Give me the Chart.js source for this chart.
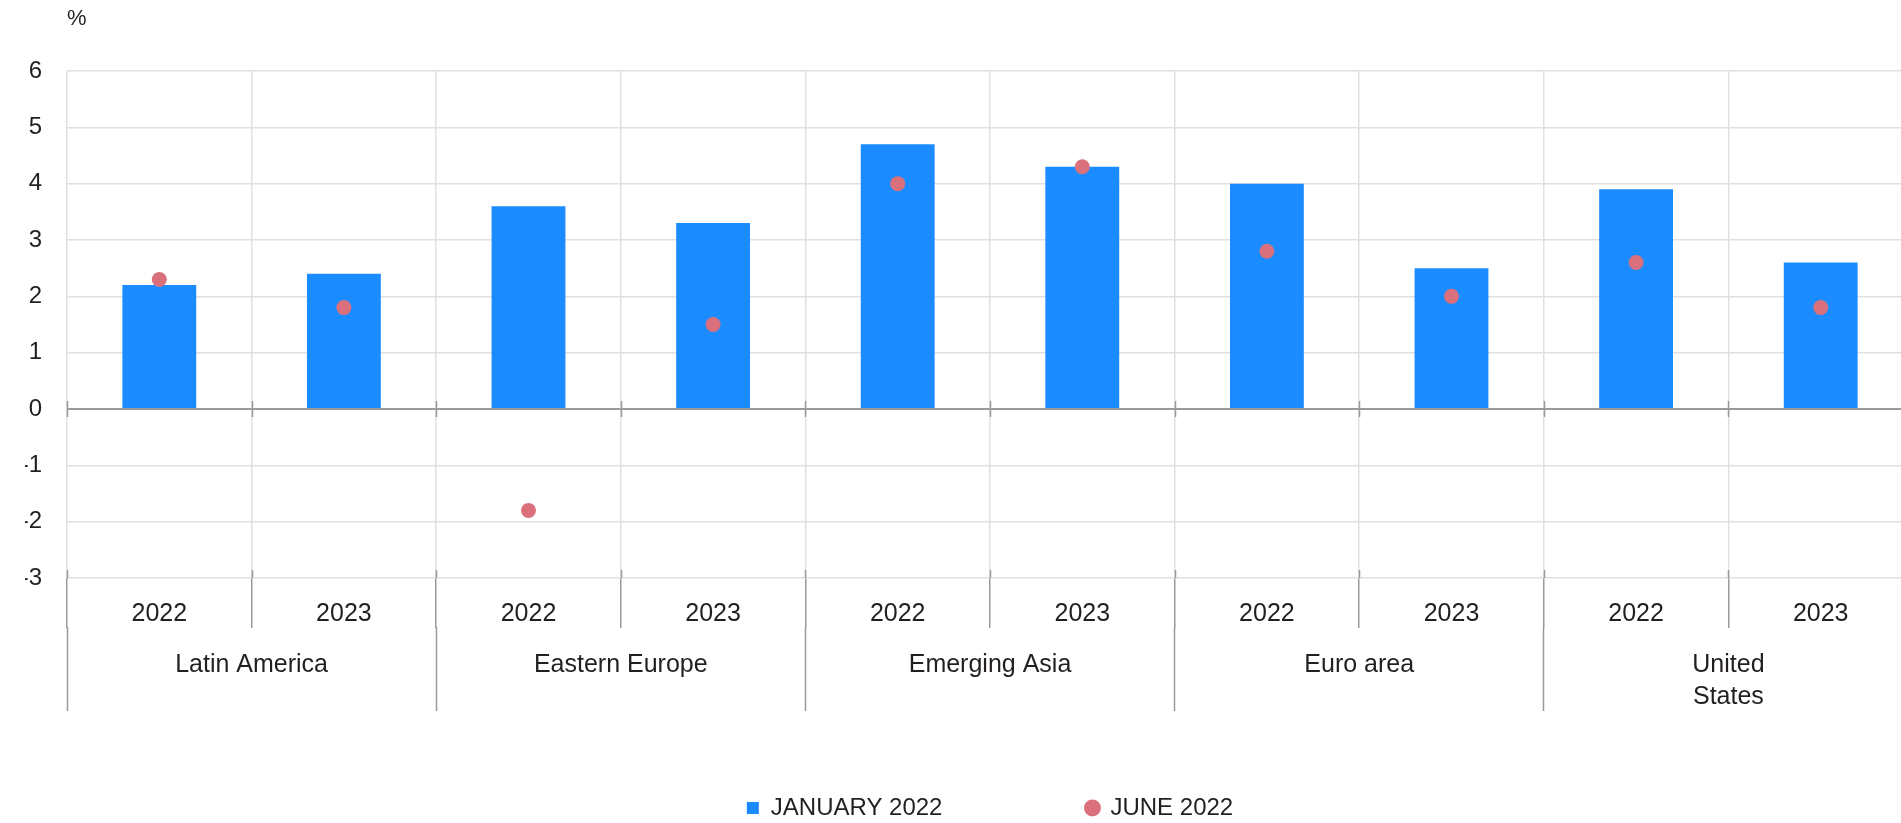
<!DOCTYPE html>
<html>
<head>
<meta charset="utf-8">
<script src="https://cdn.jsdelivr.net/npm/chart.js@4.4.1/dist/chart.umd.min.js"></script>
<style>
  html, body { margin: 0; padding: 0; background: #fff; overflow: hidden; }
  #wrap { position: relative; width: 1913px; height: 830px; }
</style>
</head>
<body>
<div id="wrap"><canvas id="chart"></canvas></div>
<script>
// ===== DATA =====
const YEARS     = ['2022', '2023', '2022', '2023', '2022', '2023', '2022', '2023', '2022', '2023'];
const REGIONS   = ['Latin America', 'Eastern Europe', 'Emerging Asia', 'Euro area', ['United', 'States']];
const JAN_2022  = [2.2, 2.4, 3.6, 3.3, 4.7, 4.3, 4.0, 2.5, 3.9, 2.6];
const JUNE_2022 = [2.3, 1.8, -1.8, 1.5, 4.0, 4.3, 2.8, 2.0, 2.6, 1.8];
const Y_MIN = -3, Y_MAX = 6;

// ===== STYLE =====
const BLUE = '#1b8cff';
const PINK = '#d9707b';
const GRID = '#e0e0e0';
const AXIS = '#9a9a9a';
const TEXT = '#231f20';
const FONT = "'Liberation Sans', Arial, Helvetica, sans-serif";

Chart.defaults.font.family = FONT;
Chart.defaults.color = TEXT;

// small marks crossing the zero line + unit label
const axisMarks = {
  id: 'axisMarks',
  afterDatasetsDraw(chart) {
    const { ctx, chartArea, scales: { x, y } } = chart;
    const y0 = Math.round(y.getPixelForValue(0));
    ctx.save();
    ctx.strokeStyle = AXIS;
    ctx.lineWidth = 1.5;
    ctx.beginPath();
    for (let i = 0; i <= YEARS.length; i++) {
      const px = Math.round(x.getPixelForValue(i - 0.5)) + 0.5;
      ctx.moveTo(px, y0 - 8);
      ctx.lineTo(px, y0 + 8);
      ctx.moveTo(px, chartArea.bottom - 8);
      ctx.lineTo(px, chartArea.bottom);
    }
    ctx.stroke();
    ctx.fillStyle = TEXT;
    ctx.font = '22px ' + FONT;
    ctx.textAlign = 'left';
    ctx.textBaseline = 'middle';
    ctx.fillText('%', chartArea.left, 19);
    ctx.restore();
  }
};

new Chart(document.getElementById('chart'), {
  type: 'bar',
  data: {
    labels: YEARS,
    datasets: [
      {
        label: 'JANUARY 2022',
        data: JAN_2022,
        backgroundColor: BLUE,
        borderWidth: 0,
        barPercentage: 0.4,
        categoryPercentage: 1,
        pointStyle: 'rect',
        order: 2,
      },
      {
        type: 'line',
        label: 'JUNE 2022',
        data: JUNE_2022,
        showLine: false,
        pointStyle: 'circle',
        pointRadius: 7.5,
        pointHoverRadius: 7.5,
        pointBorderWidth: 0,
        backgroundColor: PINK,
        pointBackgroundColor: PINK,
        borderColor: PINK,
        order: 1,
      },
    ],
  },
  options: {
    responsive: true, maintainAspectRatio: false,
    animation: false,
    layout: { autoPadding: false, padding: { top: 71, left: 25, right: 0, bottom: 0 } },
    plugins: {
      legend: {
        position: 'bottom',
        fullSize: false,
        labels: {
          usePointStyle: true,
          boxWidth: 12, boxHeight: 12,
          padding: 144,
          color: TEXT,
          font: { size: 24 },
          sort: (a, b) => a.datasetIndex - b.datasetIndex,
        },
      },
      tooltip: { enabled: false },
    },
    scales: {
      x: {
        weight: 0,
        offset: true,
        grid: { offset: true, color: GRID, lineWidth: 1.5, tickColor: AXIS, tickWidth: 1.5, tickLength: 50 },
        border: { display: false },
        ticks: { autoSkip: false, maxRotation: 0, padding: -29, color: TEXT, font: { size: 25 } },
        afterFit: s => { s.height = 49; },
      },
      x2: {
        type: 'category',
        labels: REGIONS,
        position: 'bottom',
        weight: 1,
        offset: true,
        grid: { offset: true, drawOnChartArea: false, tickColor: AXIS, tickWidth: 1.5, tickLength: 84 },
        border: { display: false },
        ticks: { autoSkip: false, maxRotation: 0, mirror: true, padding: -54, color: TEXT, font: { size: 25, lineHeight: 1.28 } },
        afterFit: s => { s.height = 25; },
      },
      y: {
        min: Y_MIN, max: Y_MAX,
        ticks: { stepSize: 1, padding: 25, color: TEXT, font: { size: 24 } },
        grid: {
          color: c => (c.tick && c.tick.value === 0) ? AXIS : GRID,
          lineWidth: c => (c.tick && c.tick.value === 0) ? 2 : 1.5,
          drawTicks: false,
        },
        border: { display: false },
        afterFit: s => { s.width = 42; },
      },
    },
  },
  plugins: [axisMarks],
});
</script>
</body>
</html>
